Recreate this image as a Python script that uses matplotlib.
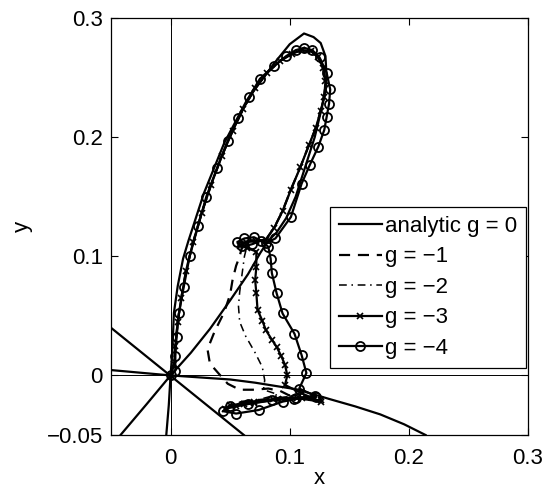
import matplotlib
matplotlib.use("Agg")
import matplotlib.pyplot as plt

plt.rcParams['font.family'] = ['Liberation Sans', 'DejaVu Sans']

# analytic solution (g = 0), traced from lower end through the loop and back through the origin
ana_x = [-0.0036, -0.0015, 0.000, 0.0014, 0.0028, 0.006, 0.0105, 0.015, 0.028, 0.045, 0.064, 0.087,
         0.100, 0.112, 0.120, 0.126, 0.130, 0.131, 0.130, 0.127, 0.121, 0.113, 0.105, 0.097,
         0.089, 0.082, 0.0754, 0.065, 0.050, 0.033, 0.017, 0.000, -0.020, -0.042]
ana_y = [-0.050, -0.025, 0.000, 0.019, 0.0525, 0.075, 0.098, 0.113, 0.153, 0.195, 0.231, 0.262,
         0.278, 0.287, 0.284, 0.279, 0.268, 0.250, 0.240, 0.225, 0.200, 0.175, 0.150, 0.132,
         0.120, 0.113, 0.103, 0.085, 0.063, 0.039, 0.019, 0.000, -0.024, -0.050]

# other analytic curves through the origin
line_x = [-0.05, 0.0615]
line_y = [0.040, -0.050]
flat_x = [-0.05, 0.000, 0.050, 0.071, 0.106, 0.134, 0.155, 0.176, 0.196, 0.214]
flat_y = [0.0045, 0.000, -0.0034, -0.0061, -0.0117, -0.020, -0.026, -0.0327, -0.041, -0.050]

# common upper loop for g = -1 and g = -2
loop_x = [0.000, 0.003, 0.004, 0.006, 0.009, 0.013, 0.019, 0.026, 0.034, 0.043, 0.052, 0.061,
          0.071, 0.081, 0.092, 0.102, 0.110, 0.118, 0.124, 0.128, 0.130, 0.129, 0.126, 0.122,
          0.116, 0.109, 0.101, 0.094, 0.087, 0.080, 0.072, 0.063, 0.058]
loop_y = [0.000, 0.010, 0.025, 0.045, 0.065, 0.088, 0.112, 0.136, 0.160, 0.184, 0.205, 0.224,
          0.241, 0.254, 0.264, 0.270, 0.273, 0.272, 0.267, 0.258, 0.247, 0.234, 0.222, 0.208,
          0.193, 0.175, 0.156, 0.138, 0.124, 0.114, 0.113, 0.112, 0.109]

g1_x = [0.060, 0.058, 0.055, 0.052, 0.050, 0.045, 0.037, 0.031, 0.033, 0.040, 0.048, 0.058,
        0.070, 0.082, 0.092, 0.100, 0.085, 0.065, 0.052, 0.060, 0.080, 0.100]
g1_y = [0.108, 0.100, 0.092, 0.080, 0.068, 0.053, 0.037, 0.022, 0.010, 0.002, -0.007, -0.012,
        -0.012, -0.011, -0.013, -0.017, -0.020, -0.023, -0.025, -0.022, -0.020, -0.018]

g2_x = [0.064, 0.062, 0.060, 0.058, 0.057, 0.058, 0.063, 0.071, 0.077, 0.079, 0.078, 0.090,
        0.075, 0.060, 0.050, 0.065, 0.090, 0.105]
g2_y = [0.108, 0.100, 0.085, 0.070, 0.058, 0.045, 0.033, 0.019, 0.007, -0.004, -0.012, -0.016,
        -0.020, -0.024, -0.026, -0.023, -0.019, -0.018]

g3_x = [0.000, 0.003, 0.004, 0.006, 0.009, 0.013, 0.019, 0.026, 0.034, 0.043, 0.052, 0.061,
        0.071, 0.081, 0.092, 0.102, 0.110, 0.118, 0.124, 0.128, 0.130, 0.129, 0.126, 0.122,
        0.116, 0.109, 0.101, 0.094, 0.087, 0.080, 0.072, 0.063, 0.058, 0.064, 0.072, 0.072,
        0.071, 0.072, 0.073, 0.077, 0.080, 0.085, 0.089, 0.093, 0.096, 0.098, 0.096, 0.110,
        0.126, 0.106, 0.086, 0.070, 0.062, 0.050, 0.046, 0.055, 0.070, 0.090, 0.110, 0.126]
g3_y = [0.000, 0.010, 0.025, 0.045, 0.065, 0.088, 0.112, 0.136, 0.160, 0.184, 0.205, 0.224,
        0.241, 0.254, 0.264, 0.270, 0.273, 0.272, 0.267, 0.258, 0.247, 0.234, 0.222, 0.208,
        0.193, 0.175, 0.156, 0.138, 0.124, 0.114, 0.113, 0.112, 0.109, 0.107, 0.104, 0.091,
        0.080, 0.069, 0.055, 0.046, 0.038, 0.030, 0.024, 0.016, 0.009, 0.000, -0.008, -0.015,
        -0.022, -0.019, -0.020, -0.022, -0.024, -0.025, -0.028, -0.026, -0.023, -0.020, -0.019, -0.021]

g4_x = [0.000, 0.004, 0.004, 0.005, 0.007, 0.011, 0.016, 0.023, 0.030, 0.039, 0.048, 0.057,
        0.066, 0.075, 0.087, 0.097, 0.105, 0.112, 0.119, 0.125, 0.131, 0.134, 0.133, 0.131,
        0.129, 0.124, 0.117, 0.110, 0.101, 0.088, 0.080, 0.070, 0.062, 0.056, 0.060, 0.068,
        0.076, 0.082, 0.084, 0.085, 0.089, 0.094, 0.104, 0.110, 0.114, 0.108, 0.121, 0.104,
        0.094, 0.074, 0.055, 0.044, 0.050, 0.065, 0.085, 0.105, 0.122]
g4_y = [0.000, 0.004, 0.016, 0.032, 0.052, 0.074, 0.100, 0.125, 0.150, 0.174, 0.197, 0.216,
        0.234, 0.249, 0.260, 0.268, 0.273, 0.275, 0.273, 0.267, 0.254, 0.240, 0.228, 0.217,
        0.206, 0.192, 0.177, 0.161, 0.133, 0.115, 0.111, 0.116, 0.115, 0.112, 0.109, 0.110,
        0.113, 0.108, 0.098, 0.086, 0.069, 0.052, 0.035, 0.017, 0.002, -0.011, -0.017, -0.020,
        -0.022, -0.029, -0.032, -0.030, -0.026, -0.024, -0.021, -0.019, -0.018]

fig = plt.figure(figsize=(5.48, 4.91), dpi=100)
ax = fig.add_axes([111 / 548, 1 - 435 / 491, 417 / 548, 417 / 491])

lw = 1.6
ax.axvline(0, color='black', lw=0.7, zorder=1)
ax.axhline(0, color='black', lw=0.7, zorder=1)

ax.plot(ana_x, ana_y, color='black', lw=lw, label='analytic g = 0')
ax.plot(loop_x + g1_x, loop_y + g1_y, color='black', lw=lw, dashes=(5, 3.5), label='g = \u22121')
ax.plot(loop_x + g2_x, loop_y + g2_y, color='black', lw=lw * 0.7, dashes=(5, 3, 1, 3),
        label='g = \u22122')
ax.plot(g3_x, g3_y, color='black', lw=lw, marker='x', ms=4, mew=1.2, label='g = \u22123')
ax.plot(g4_x, g4_y, color='black', lw=lw, marker='o', ms=6.5, mfc='none', mew=1.3,
        label='g = \u22124')
ax.plot(line_x, line_y, color='black', lw=lw)
ax.plot(flat_x, flat_y, color='black', lw=lw)

ax.set_xlim(-0.05, 0.3)
ax.set_ylim(-0.05, 0.3)
ax.set_xticks([0, 0.1, 0.2, 0.3])
ax.set_xticklabels(['0', '0.1', '0.2', '0.3'])
ax.set_yticks([-0.05, 0, 0.1, 0.2, 0.3])
ax.set_yticklabels(['\u22120.05', '0', '0.1', '0.2', '0.3'])
ax.tick_params(direction='in', top=True, right=True, length=5, width=0.8,
               labelsize=16, pad=6)
ax.tick_params(axis='x', pad=9.5)
for s in ax.spines.values():
    s.set_linewidth(0.9)

ax.set_xlabel('x', fontsize=16, labelpad=-1)
ax.set_ylabel('y', fontsize=16, labelpad=10)

leg = ax.legend(loc='upper right', bbox_to_anchor=(0.995, 0.547), fontsize=16,
                frameon=True, fancybox=False, framealpha=1, edgecolor='black',
                handlelength=1.9, handletextpad=0.15, labelspacing=0.43,
                borderpad=0.4, borderaxespad=0)
leg.get_frame().set_linewidth(0.9)

fig.savefig('out.png', dpi=100)
